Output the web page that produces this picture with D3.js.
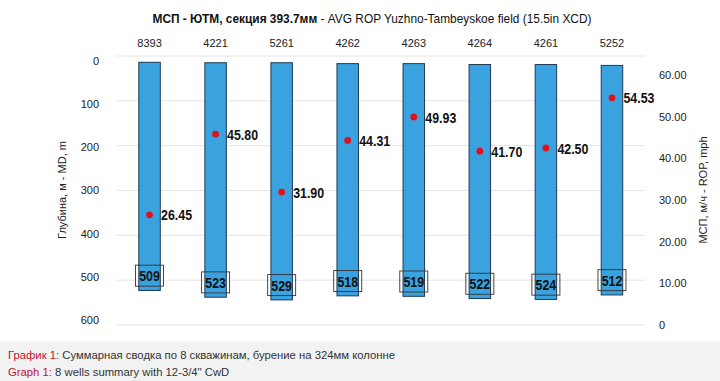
<!DOCTYPE html>
<html><head><meta charset="utf-8">
<script src="https://cdn.jsdelivr.net/npm/d3@7"></script>
<style>
html,body{margin:0;padding:0;background:#fff;}
svg{display:block;font-family:"Liberation Sans",Arial,Helvetica,sans-serif;}
</style></head>
<body><svg id="c" width="720" height="381"></svg>
<script>
const wells = ["8393","4221","5261","4262","4263","4264","4261","5252"];
const depthMD = [509,523,529,518,519,522,524,512];
const barStart = [14,15,15,17,17,19,19,21];
const rop = [26.45,45.80,31.90,44.31,49.93,41.70,42.50,54.53];
const depthTicks = [0,100,200,300,400,500,600];
const ropTicks = [0,10,20,30,40,50,60];
const titleBold = "МСП - ЮТМ, секция 393.7мм";
const titleRest = " - AVG ROP Yuzhno-Tambeyskoe field (15.5in XCD)";
const leftTitle = "Глубина, м - MD, m";
const rightTitle = "МСП, м/ч - ROP, mph";
const cap1Red = "График 1:", cap1 = " Суммарная сводка по 8 скважинам, бурение на 324мм колонне";
const cap2Red = "Graph 1:", cap2 = " 8 wells summary with 12-3/4\" CwD";

const svg = d3.select("#c");
const x = d3.scaleBand().domain(wells).range([116.5,645]);
const yD = d3.scaleLinear().domain([0,600]).range([56,325]);
const yDLab = d3.scaleLinear().domain([0,600]).range([60.7,320]);
const yR = d3.scaleLinear().domain([0,60]).range([325,75]);
const bw = 21.5;

// caption background
svg.append("rect").attr("x",0).attr("y",341.7).attr("width",720).attr("height",40).attr("fill","#f2f2f2");

// gridlines
svg.append("g").selectAll("line").data(depthTicks).join("line")
  .attr("x1",116.5).attr("x2",645).attr("y1",d=>yD(d)).attr("y2",d=>yD(d))
  .attr("stroke","#e4e4e4").attr("stroke-width",1);

// title
const t = svg.append("text").attr("x",372).attr("y",23).attr("text-anchor","middle")
  .attr("font-size",11.9).attr("fill","#111");
t.append("tspan").attr("font-weight","bold").text(titleBold);
t.append("tspan").text(titleRest);

// well labels
svg.append("g").selectAll("text").data(wells).join("text")
  .attr("x",d=>x(d)+x.bandwidth()/2).attr("y",47).attr("text-anchor","middle")
  .attr("font-size",11).attr("fill","#222").text(d=>d);

// left axis
const la = svg.append("g").attr("transform","translate(99,0)")
  .call(d3.axisLeft(yDLab).tickValues(depthTicks).tickSize(0).tickPadding(0));
la.select(".domain").remove();
la.selectAll("text").attr("font-size",11).attr("fill","#222").attr("font-family","Liberation Sans,Arial,sans-serif");

// right axis
const ra = svg.append("g").attr("transform","translate(659,0)")
  .call(d3.axisRight(yR).tickValues(ropTicks).tickSize(0).tickPadding(0)
    .tickFormat(d=>d===0?"0":d3.format(".2f")(d)));
ra.select(".domain").remove();
ra.selectAll("text").attr("font-size",11).attr("fill","#222").attr("font-family","Liberation Sans,Arial,sans-serif");

// axis titles
svg.append("text").attr("transform","translate(65.5,190) rotate(-90)").attr("text-anchor","middle")
  .attr("font-size",11).attr("fill","#222").text(leftTitle);
svg.append("text").attr("transform","translate(707,190) rotate(-90)").attr("text-anchor","middle")
  .attr("font-size",11).attr("fill","#222").text(rightTitle);

const data = wells.map((w,i)=>({w,d:depthMD[i],s:barStart[i],r:rop[i]}));
const cx = d=>x(d.w)+x.bandwidth()/2;

// bars
svg.append("g").selectAll("rect").data(data).join("rect")
  .attr("x",d=>cx(d)-bw/2).attr("width",bw)
  .attr("y",d=>yD(d.s)).attr("height",d=>yD(d.s+d.d)-yD(d.s))
  .attr("fill","#3aa2de").attr("stroke","#1f3a52").attr("stroke-width",1);

// depth boxes
const bx = svg.append("g").selectAll("g").data(data).join("g")
  .attr("transform",d=>`translate(${cx(d)},${yD(d.s+d.d)-14.8})`);
bx.append("rect").attr("x",-14).attr("y",-10.5).attr("width",28).attr("height",21)
  .attr("fill","none").attr("stroke","#333").attr("stroke-width",0.9);
bx.append("text").attr("transform","scale(0.8,1)").attr("text-anchor","middle").attr("dy","0.36em")
  .attr("font-size",15.5).attr("font-weight","bold").attr("fill","#111").text(d=>d.d);

// rop dots
svg.append("g").selectAll("circle").data(data).join("circle")
  .attr("cx",cx).attr("cy",d=>yR(d.r)).attr("r",3.4).attr("fill","#e3101b");
svg.append("g").selectAll("text").data(data).join("text")
  .attr("transform",d=>`translate(${cx(d)+11.5},${yR(d.r)}) scale(0.8,1)`)
  .attr("dy","0.36em").attr("font-size",15.5).attr("font-weight","bold").attr("fill","#111")
  .text(d=>d3.format(".2f")(d.r));

// captions
const c1 = svg.append("text").attr("x",8).attr("y",359).attr("font-size",11.3).attr("fill","#333");
c1.append("tspan").attr("fill","#c8102e").text(cap1Red);
c1.append("tspan").text(cap1);
const c2 = svg.append("text").attr("x",8).attr("y",375.5).attr("font-size",11.3).attr("fill","#333");
c2.append("tspan").attr("fill","#c8102e").text(cap2Red);
c2.append("tspan").text(cap2);
</script></body></html>
